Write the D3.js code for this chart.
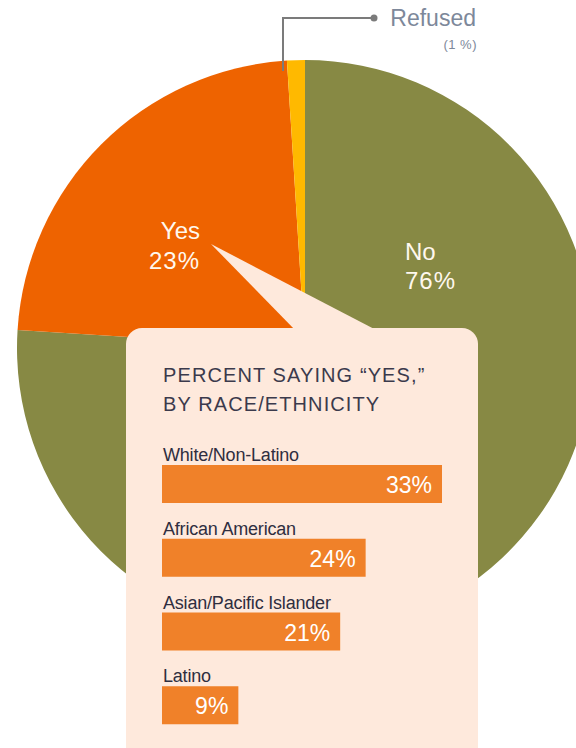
<!DOCTYPE html>
<html>
<head>
<meta charset="utf-8">
<script src="https://cdn.jsdelivr.net/npm/d3@7"></script>
<style>
  body { margin: 0; background: #fff; }
  svg { display: block; font-family: "Liberation Sans", Arial, sans-serif; }
</style>
</head>
<body>
<div id="chart"></div>
<script>
// pie data
const pieLabels = ["No", "Yes", "Refused"];
const pieValues = [76, 23, 1];
const pieColors = ["#878944", "#ee6300", "#ffb900"];

// "yes" by race / ethnicity
const groups = ["White/Non-Latino", "African American", "Asian/Pacific Islander", "Latino"];
const yesValues = [33, 24, 21, 9];

const width = 576, height = 748;

const svg = d3.select("#chart")
  .append("svg")
  .attr("width", width)
  .attr("height", height);

// --- pie ---
const cx = 305, cy = 348, r = 288;
const pie = d3.pie().sort(null).value(d => d)(pieValues);
const arc = d3.arc().innerRadius(0).outerRadius(r);

const pg = svg.append("g").attr("transform", "translate(" + cx + "," + cy + ")");
pg.selectAll("path")
  .data(pie)
  .join("path")
  .attr("d", arc)
  .attr("fill", (d, i) => pieColors[i]);

// refused leader
svg.append("path")
  .attr("d", "M283,71 V18 H372")
  .attr("fill", "none")
  .attr("stroke", "#7b7b7b")
  .attr("stroke-width", 2);
svg.append("circle").attr("cx", 374).attr("cy", 18).attr("r", 3.5).attr("fill", "#7b7b7b");
svg.append("text").attr("x", 476).attr("y", 26)
  .attr("text-anchor", "end").attr("font-size", 23).attr("fill", "#7d889a")
  .text(pieLabels[2]);
svg.append("text").attr("x", 477).attr("y", 49)
  .attr("text-anchor", "end").attr("font-size", 13).attr("fill", "#7d889a")
  .attr("letter-spacing", 0.5)
  .text("(" + pieValues[2] + " %)");

// pie labels
const yesLbl = svg.append("g").attr("fill", "#fff8ee").attr("font-size", 24).attr("text-anchor", "end");
yesLbl.append("text").attr("x", 200).attr("y", 239).text(pieLabels[1]);
yesLbl.append("text").attr("x", 200).attr("y", 269).attr("letter-spacing", 1).text(pieValues[1] + "%");

const noLbl = svg.append("g").attr("fill", "#fff8ee").attr("font-size", 24);
noLbl.append("text").attr("x", 405).attr("y", 260).text(pieLabels[0]);
noLbl.append("text").attr("x", 405).attr("y", 289).attr("letter-spacing", 1).text(pieValues[0] + "%");

// --- callout box ---
const boxFill = "#fee9dc";
svg.append("path")
  .attr("d", "M211,244 L297,332 L380,332 Z")
  .attr("fill", boxFill);
svg.append("rect")
  .attr("x", 126).attr("y", 328)
  .attr("width", 352).attr("height", 440)
  .attr("rx", 16)
  .attr("fill", boxFill);

const titleG = svg.append("g").attr("fill", "#3b3a4c").attr("font-size", 20).attr("letter-spacing", 1.1);
titleG.append("text").attr("x", 163).attr("y", 382).text("PERCENT SAYING \u201CYES,\u201D");
titleG.append("text").attr("x", 163).attr("y", 411).text("BY RACE/ETHNICITY");

// bars
const x = d3.scaleLinear().domain([0, 33]).range([0, 280]);
const y = d3.scaleBand().domain(groups).range([428, 723]);
const bx = 162;

const rows = svg.append("g").selectAll("g")
  .data(groups)
  .join("g")
  .attr("transform", d => "translate(0," + y(d) + ")");

rows.append("text")
  .attr("x", bx + 1).attr("y", 33)
  .attr("font-size", 18).attr("letter-spacing", -0.2)
  .attr("fill", "#2f2e40")
  .text(d => d);

rows.append("rect")
  .attr("x", bx).attr("y", 37)
  .attr("width", (d, i) => x(yesValues[i]))
  .attr("height", 38)
  .attr("fill", "#f08129");

rows.append("text")
  .attr("x", (d, i) => bx + x(yesValues[i]) - 10)
  .attr("y", 65)
  .attr("text-anchor", "end")
  .attr("font-size", 23)
  .attr("fill", "#fff")
  .text((d, i) => yesValues[i] + "%");
</script>
</body>
</html>
